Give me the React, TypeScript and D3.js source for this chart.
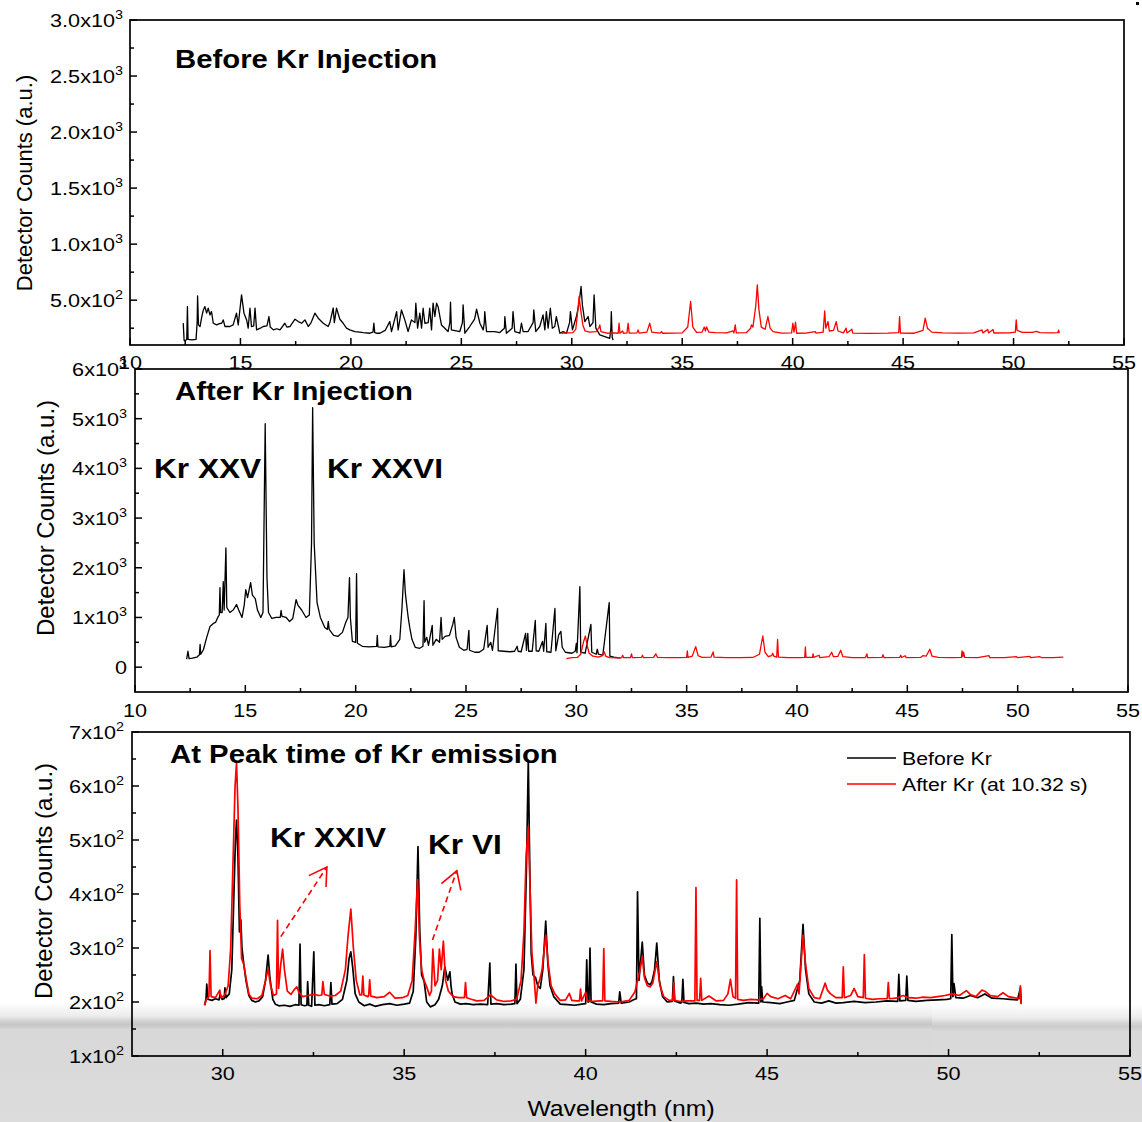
import React from 'react'
import * as d3 from 'd3'

type Pt = [number, number]

// ---- panel 1: before Kr injection (wavelength nm, counts) ----
const P1_BEFORE: Pt[] = [
  [12.41, 295], [12.45, 140], [12.49, 137], [12.57, 150], [12.6, 443], [12.63, 150], [12.8, 146], [12.99, 150],
  [13.04, 300], [13.06, 538], [13.1, 280], [13.17, 264], [13.24, 342], [13.32, 413], [13.39, 443], [13.47, 384],
  [13.54, 429], [13.62, 369], [13.69, 398], [13.77, 294], [13.92, 279], [14.05, 290], [14.15, 294], [14.22, 324],
  [14.3, 265], [14.52, 265], [14.67, 279], [14.82, 384], [14.9, 279], [15.05, 547], [15.16, 384], [15.28, 324],
  [15.35, 250], [15.43, 429], [15.5, 265], [15.6, 270], [15.66, 429], [15.73, 235], [15.9, 250], [16.03, 265],
  [16.2, 270], [16.29, 354], [16.35, 260], [16.49, 235], [16.65, 245], [16.79, 235], [17.01, 294], [17.1, 260],
  [17.24, 265], [17.47, 330], [17.62, 309], [17.77, 294], [17.92, 324], [18.07, 265], [18.2, 300], [18.37, 384],
  [18.52, 339], [18.75, 294], [18.97, 265], [19.05, 300], [19.2, 430], [19.25, 300], [19.35, 429], [19.5, 330],
  [19.65, 294], [19.8, 250], [19.95, 235], [20.18, 220], [20.4, 215], [20.56, 211], [20.86, 205], [21.0, 215],
  [21.04, 294], [21.08, 210], [21.16, 205], [21.31, 205], [21.55, 230], [21.76, 309], [21.84, 220], [22.07, 398],
  [22.14, 235], [22.29, 413], [22.44, 324], [22.59, 220], [22.74, 324], [22.9, 300], [22.94, 473], [23.02, 250],
  [23.12, 384], [23.2, 250], [23.27, 428], [23.35, 294], [23.5, 300], [23.57, 428], [23.65, 235], [23.72, 473],
  [23.8, 354], [23.88, 473], [23.95, 440], [24.03, 354], [24.1, 279], [24.25, 250], [24.4, 220], [24.48, 300],
  [24.51, 482], [24.55, 235], [24.93, 220], [25.05, 300], [25.08, 458], [25.16, 205], [25.38, 265], [25.6, 330],
  [25.69, 419], [25.84, 294], [25.99, 235], [26.04, 300], [26.06, 398], [26.14, 220], [26.51, 220], [26.74, 211],
  [26.95, 250], [26.97, 354], [27.04, 205], [27.3, 250], [27.34, 398], [27.42, 220], [27.65, 205], [27.72, 294],
  [27.8, 220], [28.02, 220], [28.25, 300], [28.28, 413], [28.37, 220], [28.55, 265], [28.7, 369], [28.78, 235],
  [28.85, 398], [28.93, 250], [29.03, 428], [29.12, 250], [29.23, 265], [29.3, 354], [29.46, 205], [29.61, 220],
  [29.76, 205], [29.9, 300], [29.94, 398], [30.03, 235], [30.21, 354], [30.33, 473], [30.42, 622], [30.48, 458],
  [30.59, 309], [30.74, 354], [30.82, 265], [30.96, 300], [31.01, 547], [31.09, 250], [31.27, 190], [31.49, 175],
  [31.72, 160], [31.77, 250], [31.79, 398], [31.83, 170], [31.87, 145],
]

const P1_AFTER: Pt[] = [
  [29.53, 205], [29.8, 208], [30.05, 210], [30.18, 240], [30.28, 420], [30.33, 532], [30.4, 420], [30.5, 279],
  [30.6, 225], [30.8, 215], [31.1, 220], [31.22, 250], [31.27, 279], [31.32, 220], [31.6, 205], [31.9, 208],
  [32.1, 205], [32.14, 294], [32.18, 205], [32.3, 225], [32.34, 205], [32.5, 208], [32.55, 294], [32.6, 206],
  [32.95, 208], [33.0, 235], [33.05, 206], [33.4, 215], [33.53, 294], [33.62, 215], [34.0, 206], [34.06, 220],
  [34.12, 205], [34.6, 206], [35.0, 208], [35.25, 260], [35.38, 488], [35.48, 260], [35.65, 212], [35.9, 215],
  [36.0, 260], [36.05, 225], [36.1, 262], [36.2, 215], [36.5, 210], [37.0, 208], [37.3, 225], [37.34, 208],
  [37.4, 279], [37.45, 208], [37.9, 210], [38.1, 250], [38.13, 279], [38.2, 260], [38.33, 450], [38.4, 637],
  [38.47, 420], [38.58, 260], [38.75, 240], [38.88, 354], [38.98, 250], [39.11, 220], [39.5, 206], [39.95, 208],
  [40.01, 294], [40.06, 215], [40.13, 303], [40.18, 205], [40.6, 206], [41.02, 220], [41.06, 206], [41.38, 215],
  [41.45, 404], [41.5, 250], [41.6, 309], [41.66, 225], [41.85, 230], [41.97, 309], [42.05, 225], [42.3, 208],
  [42.42, 250], [42.46, 208], [42.68, 241], [42.72, 206], [43.5, 204], [44.3, 206], [44.8, 210], [44.84, 354],
  [44.88, 206], [45.5, 205], [45.9, 230], [46.0, 339], [46.1, 250], [46.3, 215], [46.8, 208], [47.5, 206],
  [48.2, 208], [48.57, 235], [48.61, 208], [48.83, 238], [48.87, 208], [49.07, 238], [49.11, 207], [49.8, 208],
  [50.08, 215], [50.12, 324], [50.16, 230], [50.4, 212], [50.85, 212], [51.03, 222], [51.2, 210], [51.7, 208],
  [52.0, 210], [52.04, 232], [52.07, 205],
]

// ---- panel 2: after Kr injection ----
const P2_BEFORE: Pt[] = [
  [12.34, 160], [12.4, 320], [12.45, 170], [12.6, 180], [12.8, 200], [12.92, 250], [12.95, 460], [12.98, 260],
  [13.1, 350], [13.25, 600], [13.4, 820], [13.55, 880], [13.65, 900], [13.75, 1000], [13.82, 1050], [13.85, 1600],
  [13.88, 1100], [13.95, 1100], [14.0, 1720], [14.04, 1150], [14.12, 2400], [14.16, 1200], [14.3, 1100],
  [14.45, 1150], [14.6, 1260], [14.7, 1150], [14.85, 1000], [14.95, 1250], [15.02, 1560], [15.1, 1400],
  [15.24, 1700], [15.32, 1450], [15.45, 1380], [15.55, 1150], [15.7, 1000], [15.8, 1100], [15.9, 4900],
  [15.98, 1800], [16.05, 1100], [16.2, 980], [16.4, 1000], [16.58, 1000], [16.62, 1140], [16.66, 1020],
  [16.85, 1000], [17.0, 920], [17.15, 980], [17.3, 1360], [17.38, 1250], [17.55, 1150], [17.75, 1000],
  [17.9, 1050], [18.0, 2500], [18.05, 5220], [18.12, 2500], [18.25, 1300], [18.4, 1000], [18.6, 800],
  [18.72, 760], [18.76, 920], [18.8, 760], [19.0, 640], [19.2, 620], [19.4, 700], [19.55, 900], [19.65, 1000],
  [19.72, 1800], [19.76, 1000], [19.85, 520], [20.0, 500], [20.04, 1880], [20.08, 480], [20.3, 420], [20.6, 410],
  [20.95, 420], [20.98, 640], [21.01, 410], [21.3, 400], [21.55, 420], [21.58, 640], [21.61, 410], [21.8, 430],
  [22.0, 560], [22.1, 1200], [22.19, 1960], [22.25, 1500], [22.3, 1300], [22.38, 1000], [22.45, 800],
  [22.55, 560], [22.7, 400], [22.9, 380], [23.05, 420], [23.1, 1340], [23.13, 500], [23.22, 600], [23.3, 440],
  [23.47, 840], [23.5, 440], [23.65, 560], [23.8, 500], [23.87, 1000], [23.92, 560], [24.05, 620], [24.25, 640],
  [24.4, 860], [24.47, 1000], [24.55, 600], [24.7, 400], [24.9, 340], [25.05, 360], [25.13, 740], [25.16, 340],
  [25.4, 300], [25.6, 300], [25.8, 360], [25.96, 840], [26.0, 400], [26.12, 500], [26.2, 340], [26.43, 1180],
  [26.46, 330], [26.7, 320], [27.0, 310], [27.2, 320], [27.32, 420], [27.36, 320], [27.5, 310], [27.7, 680],
  [27.74, 340], [27.8, 680], [27.84, 320], [28.0, 320], [28.14, 940], [28.18, 330], [28.3, 320], [28.47, 520],
  [28.52, 320], [28.62, 880], [28.66, 310], [28.85, 300], [29.03, 1180], [29.07, 330], [29.2, 650], [29.3, 720],
  [29.36, 400], [29.5, 300], [29.8, 280], [29.95, 320], [30.0, 480], [30.03, 290], [30.16, 1620], [30.2, 300],
  [30.4, 280], [30.66, 860], [30.7, 300], [30.9, 260], [30.95, 360], [31.0, 260], [31.2, 240], [31.49, 1300],
  [31.52, 220], [31.7, 200], [32.0, 180],
]

const P2_AFTER: Pt[] = [
  [29.55, 173], [29.8, 190], [30.05, 195], [30.2, 260], [30.32, 500], [30.41, 627], [30.48, 460], [30.58, 280],
  [30.75, 220], [31.0, 200], [31.18, 230], [31.27, 307], [31.33, 220], [31.5, 190], [31.8, 185], [32.05, 190],
  [32.1, 240], [32.14, 190], [32.45, 190], [32.5, 267], [32.54, 190], [32.95, 195], [33.0, 240], [33.04, 192],
  [33.5, 195], [33.6, 267], [33.68, 195], [34.2, 190], [34.6, 192], [35.0, 195], [35.03, 327], [35.06, 195],
  [35.25, 220], [35.41, 413], [35.52, 230], [35.7, 195], [36.1, 200], [36.2, 307], [36.24, 200], [36.8, 190],
  [37.4, 192], [38.0, 195], [38.3, 260], [38.45, 627], [38.55, 300], [38.7, 210], [38.85, 230], [38.9, 280],
  [38.95, 220], [39.08, 200], [39.12, 560], [39.16, 200], [39.6, 190], [40.1, 192], [40.35, 195], [40.38, 407],
  [40.41, 195], [40.7, 195], [40.73, 267], [40.76, 195], [41.0, 240], [41.03, 192], [41.45, 210], [41.57, 300],
  [41.65, 210], [41.85, 215], [41.98, 340], [42.08, 210], [42.5, 192], [43.1, 192], [43.17, 267], [43.2, 192],
  [43.85, 195], [43.9, 250], [43.94, 192], [44.65, 195], [44.7, 240], [44.74, 195], [44.9, 230], [44.95, 192],
  [45.6, 195], [45.7, 230], [45.85, 220], [46.02, 360], [46.12, 220], [46.4, 195], [47.0, 192], [47.45, 195],
  [47.48, 327], [47.52, 210], [47.55, 300], [47.6, 195], [48.2, 190], [48.7, 230], [48.74, 190], [49.4, 192],
  [49.95, 210], [50.0, 190], [50.55, 215], [50.6, 190], [51.0, 210], [51.1, 190], [51.6, 192], [52.07, 200],
]

// ---- panel 3: at peak time of Kr emission ----
const P3_BEFORE: Pt[] = [
  [29.5, 194], [29.54, 206], [29.56, 233], [29.59, 205], [29.7, 203], [29.8, 206], [29.9, 204], [29.93, 215],
  [29.98, 205], [30.04, 206], [30.06, 226], [30.09, 208], [30.18, 215], [30.25, 260], [30.3, 380], [30.35, 500],
  [30.38, 537], [30.42, 470], [30.46, 330], [30.5, 352], [30.53, 300], [30.58, 270], [30.64, 240], [30.72, 212],
  [30.8, 203], [30.9, 200], [31.0, 202], [31.1, 210], [31.18, 240], [31.25, 287], [31.3, 245], [31.38, 205],
  [31.45, 196], [31.55, 193], [31.7, 194], [31.85, 192], [32.0, 195], [32.1, 194], [32.13, 307], [32.16, 195],
  [32.25, 193], [32.32, 194], [32.34, 238], [32.37, 194], [32.45, 192], [32.51, 293], [32.54, 194], [32.65, 195],
  [32.8, 193], [32.95, 195], [32.98, 236], [33.01, 196], [33.15, 197], [33.3, 205], [33.42, 240], [33.48, 280],
  [33.53, 293], [33.58, 265], [33.65, 215], [33.75, 200], [33.9, 193], [34.05, 196], [34.2, 192], [34.4, 195],
  [34.6, 197], [34.8, 194], [35.0, 196], [35.15, 198], [35.25, 220], [35.32, 320], [35.38, 488], [35.43, 330],
  [35.48, 250], [35.55, 238], [35.62, 200], [35.72, 191], [35.85, 195], [35.95, 205], [36.05, 230], [36.12, 265],
  [36.2, 240], [36.26, 256], [36.29, 230], [36.32, 215], [36.4, 200], [36.55, 196], [36.7, 197], [36.9, 195],
  [37.1, 196], [37.3, 195], [37.36, 272], [37.39, 196], [37.55, 197], [37.75, 195], [37.95, 196], [38.05, 197],
  [38.08, 270], [38.11, 197], [38.2, 205], [38.3, 260], [38.37, 450], [38.42, 648], [38.46, 450], [38.5, 290],
  [38.55, 250], [38.62, 245], [38.68, 230], [38.75, 225], [38.82, 260], [38.9, 350], [38.96, 270], [39.02, 230],
  [39.12, 210], [39.3, 196], [39.5, 195], [39.7, 194], [39.9, 196], [40.0, 197], [40.03, 278], [40.06, 200],
  [40.09, 200], [40.12, 300], [40.15, 200], [40.3, 196], [40.5, 195], [40.7, 197], [40.91, 198], [40.94, 219],
  [40.98, 198], [41.2, 200], [41.35, 205], [41.4, 206], [41.43, 404], [41.47, 240], [41.56, 311], [41.62, 250],
  [41.7, 235], [41.78, 232], [41.83, 238], [41.9, 260], [41.96, 309], [42.03, 240], [42.12, 210], [42.25, 200],
  [42.39, 201], [42.42, 247], [42.45, 202], [42.6, 198], [42.65, 199], [42.68, 242], [42.71, 199], [42.85, 197],
  [43.05, 198], [43.25, 196], [43.45, 197], [43.7, 195], [43.95, 194], [44.2, 196], [44.5, 199], [44.77, 198],
  [44.8, 355], [44.83, 200], [44.85, 228], [44.88, 200], [45.1, 199], [45.35, 197], [45.55, 200], [45.75, 203],
  [45.9, 240], [45.99, 344], [46.06, 260], [46.15, 215], [46.3, 200], [46.5, 198], [46.7, 202], [46.9, 198],
  [47.1, 199], [47.4, 201], [47.7, 199], [48.0, 200], [48.3, 202], [48.6, 201], [48.63, 251], [48.66, 202],
  [48.82, 203], [48.85, 248], [48.88, 203], [49.1, 201], [49.4, 203], [49.7, 204], [49.95, 205], [50.06, 206],
  [50.09, 325], [50.12, 210], [50.15, 234], [50.2, 208], [50.4, 207], [50.6, 212], [50.8, 208], [51.0, 215],
  [51.2, 207], [51.5, 206], [51.7, 205], [51.9, 204], [51.98, 226], [52.0, 198],
]

const P3_AFTER: Pt[] = [
  [29.5, 194], [29.55, 205], [29.62, 210], [29.65, 295], [29.68, 210], [29.8, 208], [29.92, 222], [29.95, 208],
  [30.05, 212], [30.15, 230], [30.22, 300], [30.28, 450], [30.34, 600], [30.38, 643], [30.42, 560], [30.47, 380],
  [30.52, 280], [30.58, 270], [30.64, 245], [30.72, 215], [30.8, 207], [30.95, 206], [31.08, 212], [31.18, 240],
  [31.25, 261], [31.32, 230], [31.4, 212], [31.48, 215], [31.51, 351], [31.54, 225], [31.6, 270], [31.65, 298],
  [31.7, 260], [31.78, 220], [31.88, 214], [31.96, 222], [32.04, 228], [32.1, 218], [32.2, 210], [32.35, 212],
  [32.5, 214], [32.65, 212], [32.73, 213], [32.76, 238], [32.8, 214], [32.95, 211], [33.1, 212], [33.25, 220],
  [33.38, 260], [33.45, 320], [33.53, 372], [33.6, 300], [33.68, 240], [33.78, 213], [33.83, 213], [33.86, 248],
  [33.89, 213], [34.0, 210], [34.02, 211], [34.05, 241], [34.08, 211], [34.25, 208], [34.45, 210], [34.6, 218],
  [34.75, 207], [34.95, 208], [35.1, 212], [35.22, 240], [35.3, 330], [35.37, 426], [35.42, 320], [35.48, 260],
  [35.55, 240], [35.62, 228], [35.7, 212], [35.75, 220], [35.79, 298], [35.85, 230], [35.92, 240], [35.97, 298],
  [36.02, 260], [36.08, 313], [36.14, 240], [36.22, 220], [36.35, 210], [36.5, 208], [36.66, 208], [36.69, 236],
  [36.72, 208], [36.85, 205], [37.0, 202], [37.2, 203], [37.38, 213], [37.55, 204], [37.75, 201], [37.95, 202],
  [38.1, 205], [38.22, 240], [38.3, 330], [38.36, 470], [38.42, 525], [38.46, 430], [38.52, 290], [38.58, 245],
  [38.63, 198], [38.68, 230], [38.74, 242], [38.8, 260], [38.9, 324], [38.97, 270], [39.05, 230], [39.15, 215],
  [39.3, 203], [39.45, 204], [39.55, 216], [39.62, 203], [39.75, 202], [39.83, 202], [39.86, 224], [39.89, 202],
  [40.0, 218], [40.05, 202], [40.2, 201], [40.4, 202], [40.47, 202], [40.5, 299], [40.53, 202], [40.7, 201],
  [40.95, 200], [41.2, 203], [41.36, 219], [41.43, 240], [41.5, 260], [41.56, 284], [41.62, 245], [41.7, 230],
  [41.78, 228], [41.85, 235], [41.96, 275], [42.05, 230], [42.15, 210], [42.3, 203], [42.4, 203], [42.43, 236],
  [42.46, 203], [42.6, 201], [42.8, 202], [43.01, 202], [43.04, 412], [43.07, 203], [43.14, 203], [43.17, 244],
  [43.2, 203], [43.4, 211], [43.6, 202], [43.8, 203], [43.92, 215], [43.99, 242], [44.06, 210], [44.13, 207],
  [44.16, 426], [44.19, 205], [44.35, 203], [44.55, 205], [44.75, 204], [44.9, 206], [45.0, 216], [45.1, 210],
  [45.3, 206], [45.5, 212], [45.65, 206], [45.84, 233], [45.88, 215], [45.99, 324], [46.06, 270], [46.15, 225],
  [46.3, 208], [46.45, 206], [46.6, 235], [46.66, 222], [46.75, 215], [46.9, 208], [47.07, 208], [47.1, 265],
  [47.13, 208], [47.3, 212], [47.4, 225], [47.5, 210], [47.65, 208], [47.68, 288], [47.71, 207], [47.9, 205],
  [48.1, 206], [48.31, 206], [48.34, 236], [48.37, 206], [48.55, 207], [48.75, 212], [48.9, 208], [49.1, 207],
  [49.3, 209], [49.5, 208], [49.7, 210], [49.9, 212], [50.1, 215], [50.3, 212], [50.49, 221], [50.6, 214],
  [50.75, 210], [50.92, 222], [51.0, 220], [51.15, 212], [51.35, 210], [51.5, 217], [51.65, 210], [51.8, 208],
  [51.95, 206], [51.98, 230], [52.0, 196],
]

// ---- axes ----
const X_TICKS_WIDE = [10, 15, 20, 25, 30, 35, 40, 45, 50, 55]
const X_TICKS_P3 = [30, 35, 40, 45, 50, 55]
const P1_Y_TICKS = [500, 1000, 1500, 2000, 2500, 3000]
const P1_Y_LABELS: [string, string][] = [['5.0', '2'], ['1.0', '3'], ['1.5', '3'], ['2.0', '3'], ['2.5', '3'], ['3.0', '3']]
const P2_Y_TICKS = [0, 1000, 2000, 3000, 4000, 5000, 6000]
const P2_Y_LABELS: [string, string][] = [['0', ''], ['1', '3'], ['2', '3'], ['3', '3'], ['4', '3'], ['5', '3'], ['6', '3']]
const P3_Y_TICKS = [100, 200, 300, 400, 500, 600, 700]
const P3_Y_LABELS: [string, string][] = [['1', '2'], ['2', '2'], ['3', '2'], ['4', '2'], ['5', '2'], ['6', '2'], ['7', '2']]

const SERIES_NAMES = ['Before Kr', 'After Kr (at 10.32 s)']
const BLACK = '#000000'
const RED = '#ff0000'

const FONT = "'Liberation Sans', Arial, Helvetica, sans-serif"
const SX = 1.15 // the picture is a little stretched sideways

function T({ x, y, size, anchor = 'start', bold = false, fill = '#000', children }: any) {
  return (
    <text
      transform={`translate(${x},${y}) scale(${SX},1)`}
      textAnchor={anchor}
      fontSize={size}
      fontWeight={bold ? 'bold' : 'normal'}
      fontFamily={FONT}
      fill={fill}
    >
      {children}
    </text>
  )
}

function Panel({ cfg }: any) {
  const x = d3.scaleLinear().domain(cfg.xDomain).range([cfg.x0, cfg.x1])
  const y = d3.scaleLinear().domain(cfg.yDomain).range([cfg.y1, cfg.y0])
  const line = d3.line<Pt>().x((d) => x(d[0])).y((d) => y(d[1]))
  const xMinor = d3.range(cfg.xDomain[0], cfg.xDomain[1], 2.5).filter((v) => v > cfg.xDomain[0] && !cfg.xTicks.includes(v))
  const yMinor = d3.range(cfg.yMinorStart, cfg.yDomain[1], cfg.yStep).filter((v) => v > cfg.yDomain[0])

  return (
    <g>
      {cfg.series.map((s: any, i: number) => (
        <path key={i} d={line(s.data) || ''} fill="none" stroke={s.color} strokeWidth={s.width} strokeLinejoin="round" />
      ))}
      <rect x={cfg.x0} y={cfg.y0} width={cfg.x1 - cfg.x0} height={cfg.y1 - cfg.y0} fill="none" stroke="#000" strokeWidth={1.7} />
      {cfg.xTicks.map((t: number) => (
        <g key={'xt' + t}>
          <line x1={x(t)} x2={x(t)} y1={cfg.y1} y2={cfg.y1 - 7} stroke="#000" strokeWidth={1.5} />
          <T x={x(t)} y={cfg.xLabelY} size={18.8} anchor="middle">{t}</T>
        </g>
      ))}
      {xMinor.map((t: number) => (
        <line key={'xm' + t} x1={x(t)} x2={x(t)} y1={cfg.y1} y2={cfg.y1 - 4} stroke="#000" strokeWidth={1.5} />
      ))}
      {cfg.yTicks.map((t: number, i: number) => (
        <g key={'yt' + t}>
          <line x1={cfg.x0} x2={cfg.x0 + 7} y1={y(t)} y2={y(t)} stroke="#000" strokeWidth={1.5} />
          <T x={cfg.yLabelX} y={y(t) + 7} size={18.8} anchor="end">
            {cfg.yLabels[i][0]}
            {cfg.yLabels[i][1] ? 'x10' : ''}
            {cfg.yLabels[i][1] ? <tspan dy={-8} fontSize={12.5}>{cfg.yLabels[i][1]}</tspan> : null}
          </T>
        </g>
      ))}
      {yMinor.map((t: number) => (
        <line key={'ym' + t} x1={cfg.x0} x2={cfg.x0 + 4} y1={y(t)} y2={y(t)} stroke="#000" strokeWidth={1.5} />
      ))}
      <text
        transform={`translate(${cfg.titleX},${cfg.titleY}) rotate(-90)`}
        textAnchor="middle"
        fontSize={cfg.titleSize}
        fontFamily={FONT}
        fill="#000"
      >
        Detector Counts (a.u.)
      </text>
    </g>
  )
}

function Arrow({ x, y, from, to }: any) {
  const sx = x(from[0]), sy = y(from[1]), tx = x(to[0]), ty = y(to[1])
  const a = Math.atan2(ty - sy, tx - sx)
  const L = 20, s = (31 * Math.PI) / 180
  const h1 = [tx - L * Math.cos(a - s), ty - L * Math.sin(a - s)]
  const h2 = [tx - L * Math.cos(a + s), ty - L * Math.sin(a + s)]
  return (
    <g stroke={RED} strokeWidth={1.6} fill="none">
      <line x1={sx} y1={sy} x2={tx} y2={ty} strokeDasharray="6,4" />
      <polyline points={`${h1[0]},${h1[1]} ${tx},${ty} ${h2[0]},${h2[1]}`} />
    </g>
  )
}

export default function App() {
  const p1 = {
    x0: 130, x1: 1124, y0: 20, y1: 345, xDomain: [10, 55], yDomain: [100, 3000],
    xTicks: X_TICKS_WIDE, yTicks: P1_Y_TICKS, yLabels: P1_Y_LABELS, yMinorStart: 250, yStep: 500,
    xLabelY: 369, yLabelX: 123, titleX: 32, titleY: 183, titleSize: 22,
    series: [
      { data: P1_BEFORE, color: BLACK, width: 1.3 },
      { data: P1_AFTER, color: RED, width: 1.3 },
    ],
  }
  const p2 = {
    x0: 135, x1: 1128, y0: 369, y1: 692, xDomain: [10, 55], yDomain: [-500, 6000],
    xTicks: X_TICKS_WIDE, yTicks: P2_Y_TICKS, yLabels: P2_Y_LABELS, yMinorStart: 500, yStep: 1000,
    xLabelY: 717, yLabelX: 127, titleX: 54, titleY: 518, titleSize: 24,
    series: [
      { data: P2_BEFORE, color: BLACK, width: 1.3 },
      { data: P2_AFTER, color: RED, width: 1.3 },
    ],
  }
  const p3 = {
    x0: 132, x1: 1130, y0: 732, y1: 1056, xDomain: [27.5, 55], yDomain: [100, 700],
    xTicks: X_TICKS_P3, yTicks: P3_Y_TICKS, yLabels: P3_Y_LABELS, yMinorStart: 150, yStep: 100,
    xLabelY: 1080, yLabelX: 124, titleX: 52, titleY: 881, titleSize: 24,
    series: [
      { data: P3_BEFORE, color: BLACK, width: 1.7 },
      { data: P3_AFTER, color: RED, width: 1.7 },
    ],
  }
  const x3 = d3.scaleLinear().domain(p3.xDomain).range([p3.x0, p3.x1])
  const y3 = d3.scaleLinear().domain(p3.yDomain).range([p3.y1, p3.y0])

  return (
    <div style={{ position: 'absolute', left: 0, top: 0 }}>
      <svg width={1142} height={1122} style={{ display: 'block', background: '#fff' }}>
        <defs>
          <linearGradient id="shadeL" gradientUnits="userSpaceOnUse" x1="0" y1="998" x2="0" y2="1122">
            <stop offset="0.03" stopColor="#ffffff" />
            <stop offset="0.145" stopColor="#ececec" />
            <stop offset="0.185" stopColor="#d2d2d2" />
            <stop offset="0.215" stopColor="#c6c6c6" />
            <stop offset="0.255" stopColor="#d8d8d8" />
            <stop offset="1" stopColor="#dcdcdc" />
          </linearGradient>
          <linearGradient id="shadeR" gradientUnits="userSpaceOnUse" x1="0" y1="1000" x2="0" y2="1124">
            <stop offset="0.03" stopColor="#ffffff" />
            <stop offset="0.145" stopColor="#ececec" />
            <stop offset="0.185" stopColor="#d6d6d6" />
            <stop offset="0.215" stopColor="#cbcbcb" />
            <stop offset="0.255" stopColor="#d9d9d9" />
            <stop offset="1" stopColor="#dcdcdc" />
          </linearGradient>
        </defs>
        <rect x={0} y={998} width={932} height={124} fill="url(#shadeL)" />
        <rect x={932} y={998} width={210} height={124} fill="url(#shadeR)" />
        <rect x={1136} y={2} width={3} height={3} fill="#000" />

        <Panel cfg={p1} />
        <Panel cfg={p2} />
        <Panel cfg={p3} />

        <T x={175} y={68} size={25.5} bold>Before Kr Injection</T>
        <T x={175} y={400} size={25.5} bold>After Kr Injection</T>
        <T x={170} y={763} size={25.5} bold>At Peak time of Kr emission</T>
        <T x={154} y={478} size={27.5} bold>Kr XXV</T>
        <T x={327} y={478} size={27.5} bold>Kr XXVI</T>
        <T x={270} y={847} size={27.5} bold>Kr XXIV</T>
        <T x={428} y={854} size={27.5} bold>Kr VI</T>

        <Arrow x={x3} y={y3} from={[31.6, 321]} to={[32.87, 450]} />
        <Arrow x={x3} y={y3} from={[35.78, 315]} to={[36.45, 443]} />

        <line x1={847} x2={896} y1={758} y2={758} stroke={BLACK} strokeWidth={1.5} />
        <T x={902} y={764.5} size={18.5}>{SERIES_NAMES[0]}</T>
        <line x1={847} x2={896} y1={784} y2={784} stroke={RED} strokeWidth={1.5} />
        <T x={902} y={790.5} size={18.5}>{SERIES_NAMES[1]}</T>

        <T x={621} y={1116} size={21.5} anchor="middle">Wavelength (nm)</T>
      </svg>
    </div>
  )
}
